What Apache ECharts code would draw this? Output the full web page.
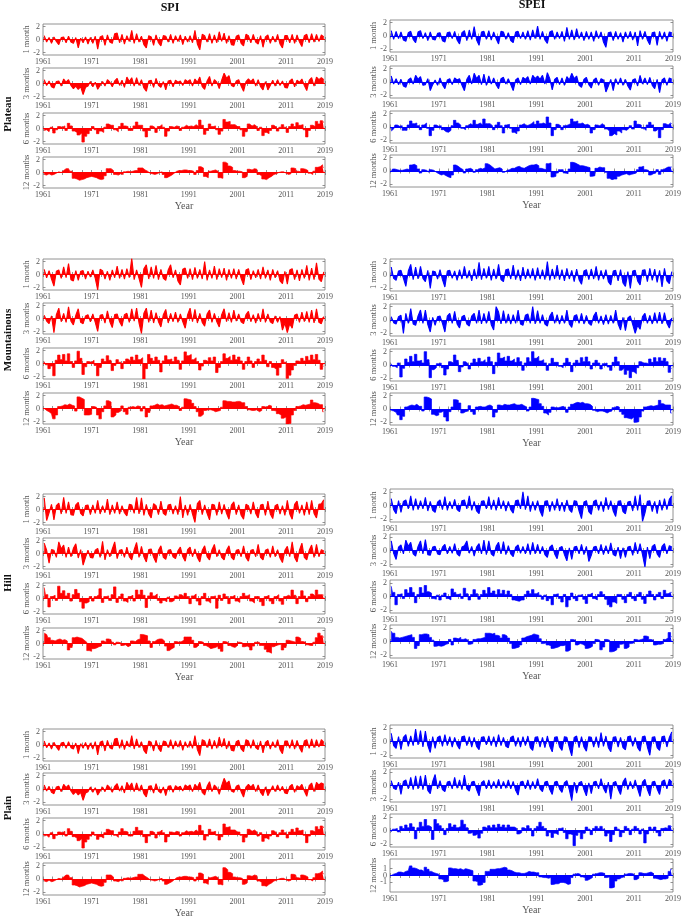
<!DOCTYPE html>
<html>
<head>
<meta charset="utf-8">
<script src="https://cdn.jsdelivr.net/npm/echarts@6/dist/echarts.min.js"></script>
<style>
  html, body { margin: 0; padding: 0; background: #fff; }
  #chart { width: 685px; height: 920px; }
</style>
</head>
<body>
<div id="chart"></div>
<script>
// half-year values, 1961 to 2018 (two per year)
const plateauSpi1 = [
  0.6,-0.4,0.3,-0.6,0.4,-0.3,-0.8,0.3,0.4,-0.5,0.5,-0.4,-0.6,0.3,-1.3,0.2,-0.5,0.4,-0.7,0.3,
  -0.6,0.5,-1.5,0.4,0.6,-0.9,0.7,-0.4,-0.6,0.9,1.0,-0.5,0.8,-0.7,0.6,-0.3,1.4,-0.6,0.9,-0.4,
  0.5,-0.8,-1.3,0.6,0.4,-0.9,0.7,-0.5,-1.0,0.6,0.5,-0.4,0.8,-0.6,0.6,-0.3,0.7,-0.8,0.5,-0.4,
  0.6,-0.5,1.4,-0.7,-1.6,0.8,0.6,-0.4,0.9,-0.6,0.7,-0.5,1.2,-0.3,1.0,-0.6,0.6,-0.8,-0.9,0.5,
  0.7,-0.6,-1.0,0.8,0.6,-0.5,0.8,-0.4,-0.7,0.6,-1.2,0.4,0.7,-0.6,0.5,-0.4,0.8,-0.7,-1.3,0.6,
  0.6,-0.5,0.8,-0.6,0.7,-0.4,-1.1,0.6,0.8,-0.5,0.9,-0.4,0.8,-0.3,0.7,0.4
];
const plateauSpi3 = [
  0.6,-0.3,0.4,-0.5,-0.7,0.3,0.4,-0.4,0.7,0.2,0.6,-0.3,-0.8,-0.4,-0.9,-0.5,-1.7,-0.6,-0.4,0.3,
  -0.5,0.2,-0.9,-0.3,0.3,-0.4,0.6,0.2,-0.5,0.4,0.8,-0.3,0.5,-0.6,1.0,0.3,0.9,-0.4,0.9,-0.3,
  0.6,-0.7,-1.2,0.4,0.5,-0.6,0.8,-0.3,-0.6,0.3,-1.0,0.4,0.5,-0.5,0.5,0.2,0.4,-0.3,0.6,0.3,
  0.6,-0.4,0.7,0.2,1.0,-0.5,-0.9,0.4,1.1,-0.4,0.6,0.2,-0.8,0.5,1.6,0.8,1.2,-0.3,-0.5,0.4,
  0.6,-0.4,-1.2,0.3,0.7,0.3,0.7,-0.4,0.6,-0.5,-1.0,0.3,-1.0,-0.3,0.5,-0.4,0.6,-0.3,0.4,-0.6,
  -0.7,0.4,0.7,-0.5,0.5,0.2,0.7,-0.3,-1.1,0.5,0.9,-0.4,1.0,0.6,0.9,0.6
];
const plateauSpi6 = [
  -0.3,-0.2,-0.5,0.2,-0.7,-0.2,0.3,0.2,0.4,-0.3,0.8,0.4,-0.4,-0.6,-1.0,-0.7,-2.1,-1.2,-0.8,-0.3,
  0.3,-0.2,-0.8,-0.4,-0.6,0.2,0.7,0.5,0.5,-0.2,-0.5,0.3,0.8,0.4,0.3,-0.3,-0.3,0.4,1.0,0.5,
  0.5,-0.4,-1.3,-0.3,0.4,0.2,-0.6,0.3,0.6,0.2,-1.2,-0.4,0.3,0.2,0.4,0.3,-0.3,0.2,0.5,0.3,
  0.4,0.3,0.6,0.3,1.3,0.5,-0.9,-0.3,0.7,0.3,0.4,-0.2,-0.9,-0.4,1.4,1.0,1.1,0.6,0.6,0.3,
  0.3,-0.2,-1.2,-0.5,0.7,0.4,0.6,0.3,-0.3,0.2,-1.1,-0.6,-0.8,-0.3,0.5,0.2,-0.4,0.2,0.6,0.2,
  -0.6,0.3,0.7,0.3,0.9,0.5,0.6,-0.2,-1.3,-0.3,0.5,0.3,1.1,0.7,1.2,0.9
];
const plateauSpi12 = [
  -0.3,-0.4,-0.2,-0.4,-0.3,-0.1,0.1,0.0,0.3,0.6,0.6,0.2,-0.9,-1.0,-1.2,-1.1,-1.0,-0.8,-0.7,-0.6,
  -0.7,-0.8,-1.0,-1.1,-1.0,-0.5,0.6,0.6,0.3,-0.3,-0.4,-0.2,-0.3,0.1,0.2,0.1,0.2,0.3,0.3,0.7,
  0.7,0.4,0.2,-0.1,-0.2,-0.3,-0.2,0.0,0.1,-0.3,-0.8,-0.6,-0.4,-0.1,0.2,0.3,0.3,0.4,0.4,0.3,
  0.3,0.2,-0.3,0.3,0.9,0.7,-0.6,-0.8,0.2,0.3,0.4,0.2,-0.8,-0.9,1.6,1.4,1.0,0.8,0.3,0.2,
  0.2,0.1,-0.8,-0.6,0.5,0.4,0.6,0.5,-0.3,-0.5,-1.0,-1.1,-0.8,-0.6,-0.3,-0.2,0.0,0.1,0.1,-0.1,
  -0.3,-0.2,0.7,0.6,0.2,0.1,0.6,0.5,0.3,-0.1,-0.3,0.2,0.8,0.9,1.2,0.8
];
const plateauSpei1 = [
  0.8,-0.5,0.7,-0.4,0.6,-0.6,-0.8,0.5,0.7,-0.5,-1.0,0.6,0.8,-0.4,0.5,-0.7,0.6,-0.5,-0.6,0.4,
  0.5,-0.7,-0.9,0.5,0.6,-0.4,0.7,-0.6,-1.2,0.5,0.8,-0.7,0.9,-0.5,1.4,-0.6,-1.4,0.6,0.7,-0.5,
  0.8,-0.6,0.6,-0.4,-1.2,0.7,0.6,-0.5,0.5,-0.7,-1.0,0.6,0.7,-0.4,0.6,-0.5,0.8,-0.6,0.9,-0.4,
  1.5,-0.5,0.7,-0.6,-1.1,0.6,0.8,-0.5,0.6,-0.4,0.7,-0.8,1.3,-0.5,0.9,-0.6,1.1,-0.4,0.6,-0.7,
  0.7,-0.5,0.6,-0.8,0.8,-0.4,0.6,-0.9,-1.7,0.5,0.6,-0.7,0.7,-0.5,0.5,-0.9,0.6,-0.4,0.7,-0.6,
  0.6,-1.5,0.8,-0.5,0.7,-0.6,-1.3,0.5,0.6,-1.4,0.7,-0.5,0.6,-0.8,0.6,0.5
];
const plateauSpei3 = [
  0.9,-0.3,0.5,-0.4,0.4,-0.6,-0.8,0.3,0.6,-0.3,1.0,0.4,0.8,-0.5,-0.4,0.5,-1.3,-0.4,0.3,-0.5,
  0.6,-0.4,-1.0,0.3,0.5,-0.4,0.6,0.3,0.5,-0.5,-1.3,0.4,1.0,-0.3,1.3,0.5,1.0,-0.4,1.2,-0.5,
  0.9,-0.3,0.6,-0.4,-1.0,0.5,0.7,-0.3,0.5,-0.4,-1.3,0.3,0.6,-0.4,0.7,0.4,0.8,-0.3,1.0,0.5,
  0.9,0.4,1.0,-0.3,1.4,0.5,-1.2,0.4,0.7,-0.4,0.6,-0.5,0.8,0.3,1.3,0.5,0.9,-0.5,-0.8,0.4,
  0.7,-0.4,-0.9,0.3,0.6,-0.5,0.5,0.3,-1.5,-0.6,0.4,-1.3,0.5,-0.4,0.6,-0.5,0.4,-0.6,-1.2,0.3,
  0.5,-0.6,1.0,-0.3,0.6,-0.4,0.7,-0.5,-1.0,0.4,-1.6,0.3,0.6,-0.5,0.6,0.4
];
const plateauSpei6 = [
  -0.6,-0.3,0.3,0.1,0.2,-0.5,-0.5,0.3,0.9,0.5,0.6,0.2,-0.4,0.3,0.6,-0.2,-1.3,-0.5,0.3,0.1,
  0.2,-0.4,-0.7,-0.8,-0.5,0.2,1.0,0.6,0.3,-0.2,-0.4,0.2,0.5,0.3,1.0,0.4,0.6,0.3,1.2,0.5,
  0.5,0.2,-0.4,0.3,0.7,0.2,-0.9,0.3,0.4,-0.2,-0.8,-1.0,-0.6,0.3,0.5,0.2,0.3,0.5,0.8,0.4,
  0.9,0.5,0.6,0.4,1.5,0.6,-1.3,-0.4,0.4,0.2,-0.4,0.2,0.3,0.5,1.2,0.8,0.9,0.5,0.6,0.3,
  0.4,0.2,-0.9,-0.4,0.3,0.2,0.5,0.2,-0.3,-0.6,-1.3,-1.0,-1.2,-0.6,-0.9,-0.4,-0.5,-0.2,0.2,-0.3,
  0.9,0.4,0.3,-0.2,-0.5,0.3,0.7,0.3,-0.6,-0.3,-1.6,-0.4,0.5,0.3,0.6,0.5
];
const plateauSpei12 = [
  -0.1,0.3,0.2,0.1,0.1,0.2,0.3,0.2,0.9,1.0,0.8,0.3,-0.3,0.2,0.1,-0.2,0.2,0.1,-0.2,-0.4,
  -0.6,-0.5,-0.7,-0.9,-1.0,-0.6,0.9,0.7,0.4,0.2,-0.3,0.3,0.4,0.2,-0.2,0.2,0.4,0.3,0.5,1.1,
  0.9,0.6,0.3,0.4,0.5,0.3,-0.2,0.1,0.2,0.4,0.4,0.6,0.7,0.5,0.4,0.6,0.8,0.9,0.9,1.0,
  0.8,0.4,0.3,0.2,1.1,1.2,-0.9,-0.8,-0.3,0.2,0.2,-0.3,-0.4,0.3,1.3,1.2,1.0,0.8,0.8,0.7,
  0.6,0.5,-0.8,-0.7,0.4,0.6,0.5,0.5,-0.2,-1.1,-1.3,-1.2,-1.2,-0.8,-0.6,-0.5,-0.4,-0.6,-0.5,-0.4,
  -0.3,0.2,0.6,0.7,0.2,0.1,-0.6,-0.4,-0.3,0.2,-0.5,0.2,0.4,0.6,0.6,0.6
];

const mountainSpi1 = [
  0.8,-0.5,0.6,-0.7,-1.8,0.5,0.7,-0.6,1.2,-0.5,1.7,-0.8,-1.0,0.6,-0.9,0.5,0.6,-0.7,0.5,-0.4,
  0.7,-0.6,-2.4,0.8,0.6,-0.7,0.5,-0.9,0.7,-0.5,1.3,-0.6,0.8,-0.7,0.9,-0.5,2.5,-0.8,0.7,-0.6,
  -2.0,0.9,1.5,-0.7,1.2,-0.6,1.4,-0.8,0.8,-0.6,-0.9,0.7,1.5,-0.5,0.7,-1.0,-1.6,0.8,1.0,-0.6,
  0.9,-0.8,1.1,-0.6,0.8,-0.7,2.0,-0.9,0.7,-0.6,1.3,-0.8,0.9,-0.5,1.0,-0.9,0.8,-0.6,0.9,-0.7,
  0.8,-0.6,-1.6,0.7,0.9,-0.8,0.6,-0.5,0.8,-0.7,1.2,-0.6,0.7,-0.9,0.8,-0.5,0.6,-1.0,-1.4,0.5,
  -1.5,0.7,0.9,-0.8,0.7,-1.0,0.8,-0.6,1.4,-0.9,1.0,-0.8,1.8,-0.7,-1.1,0.4
];
const mountainSpi3 = [
  0.5,-0.4,-0.8,0.4,-2.2,0.6,1.6,-0.5,0.8,-0.6,1.8,-0.4,-1.0,0.5,1.5,-0.6,-0.8,0.4,0.6,-0.5,
  0.7,-0.6,-2.0,0.5,0.6,-0.7,1.2,-0.5,-1.4,0.6,0.7,-0.5,-1.2,0.6,0.8,-0.6,1.5,-0.4,1.6,-0.7,
  -2.3,0.8,1.6,-0.6,1.3,-0.7,0.9,-0.5,-1.3,0.6,1.4,-0.7,0.8,-0.5,1.0,-0.6,0.7,-0.5,-1.5,0.6,
  1.6,-0.5,1.4,-0.7,0.8,-0.6,-1.2,0.7,1.3,-0.6,0.8,-0.5,-1.3,0.6,1.5,-0.5,0.9,-0.6,1.3,-0.4,
  0.7,-0.5,-0.8,0.6,1.1,-0.5,0.6,-0.7,0.8,-0.5,1.5,-0.6,0.7,-0.5,-0.8,0.4,-0.6,0.3,-1.8,-0.7,
  -2.2,-0.8,-1.5,0.5,0.7,-0.6,1.0,-0.5,1.1,-0.6,1.3,-0.7,1.5,-0.6,-0.8,0.3
];
const mountainSpi6 = [
  0.3,-0.2,-0.8,-0.4,-1.9,0.5,1.3,0.6,1.4,0.4,1.5,0.3,-0.6,0.4,1.9,0.8,-1.7,-0.5,0.3,0.2,
  0.5,-0.3,-1.9,-0.6,0.7,0.3,1.2,0.5,-1.1,-0.3,0.6,0.2,-0.8,0.3,0.7,0.4,1.0,0.5,1.3,0.6,
  0.9,-2.4,-0.8,1.4,0.8,0.4,1.0,0.5,-1.3,0.4,1.2,0.6,0.7,0.3,1.0,0.5,-0.9,0.4,1.8,1.2,
  1.4,0.6,0.9,0.3,-1.0,-0.4,0.5,0.3,0.9,0.4,1.0,-1.4,-0.6,0.3,1.5,0.8,1.1,0.5,1.3,0.6,
  1.0,0.4,-0.9,0.3,1.0,0.4,-0.6,0.3,0.7,0.3,1.3,0.5,-0.5,0.3,-0.6,-0.9,-1.8,-0.6,0.6,0.2,
  -2.3,-1.8,-1.0,-0.3,0.4,0.3,0.8,0.4,1.1,0.5,1.3,0.6,1.4,0.5,-0.9,-0.4
];
const mountainSpi12 = [
  0.0,-0.3,-0.5,-0.8,-1.6,-1.0,0.3,0.4,0.6,0.5,0.7,0.5,0.4,-0.4,1.8,1.6,1.4,-1.0,-1.0,-0.9,
  0.3,0.2,-1.0,-1.6,-0.5,0.4,1.2,1.0,-1.3,-1.0,-0.6,-0.4,0.4,-0.5,-0.9,0.2,0.3,0.2,0.4,0.3,
  -0.4,0.3,-1.3,-0.6,0.4,0.5,0.7,0.5,0.6,0.4,0.5,0.6,0.7,0.5,0.5,0.3,-0.3,0.2,1.5,1.4,
  1.3,0.8,0.3,-0.5,-1.2,-0.9,-0.3,-0.2,-0.2,-0.3,-0.5,-0.4,-0.3,0.2,1.2,1.1,1.1,1.0,1.0,1.1,
  1.1,0.9,0.9,0.3,-0.2,-0.3,-0.3,-0.2,-0.5,-0.3,0.3,0.2,0.5,0.4,-0.3,-0.4,-0.8,-1.0,-1.5,-1.3,
  -2.4,-2.3,-1.0,-0.3,0.3,0.4,0.6,0.5,0.6,0.7,1.3,0.9,0.8,0.6,0.6,-0.5
];
const mountainSpei1 = [
  1.2,-0.5,-0.8,0.6,0.7,-0.5,-1.7,0.6,1.6,-0.7,1.2,-0.6,1.3,-0.5,-1.0,0.7,-2.0,0.6,0.5,-0.6,
  0.8,-0.7,-1.8,0.6,0.7,-0.5,0.6,-0.8,0.8,-0.6,1.3,-0.5,0.7,-0.9,0.9,-0.6,1.9,-0.7,1.0,-0.5,
  1.3,-0.8,0.9,-0.6,1.6,-0.7,-1.0,0.8,0.9,-0.6,1.5,-0.7,0.8,-0.9,1.2,-0.6,0.9,-0.5,1.0,-0.8,
  1.1,-0.6,0.8,-0.7,2.0,-0.8,0.9,-0.6,1.5,-0.7,0.8,-0.9,1.0,-0.6,0.7,-1.0,0.9,-0.7,-1.4,0.6,
  0.8,-0.7,0.9,-0.6,1.3,-0.8,0.7,-0.6,0.8,-1.0,-1.5,0.6,0.7,-0.9,0.8,-1.2,-1.7,0.5,-2.0,0.6,
  0.7,-0.9,-1.5,0.7,0.8,-1.0,1.0,-0.8,0.9,-1.1,0.7,-1.8,1.0,-0.9,-1.3,0.5
];
const mountainSpei3 = [
  0.5,-0.4,-0.6,0.5,0.7,-2.0,1.0,-0.5,1.7,-0.6,-0.8,0.6,1.5,-0.5,1.5,-0.7,-1.8,0.4,-0.8,0.5,
  0.6,-0.5,-1.8,0.6,1.0,-0.5,1.3,-0.6,-1.2,0.5,0.7,-0.6,-0.9,0.6,1.0,-0.5,1.5,-0.6,1.0,-0.5,
  1.3,-0.7,-1.5,2.0,1.2,-0.6,1.4,-0.5,0.9,-0.6,0.8,-0.5,1.5,-0.6,-0.8,0.7,0.9,-0.5,2.0,-0.6,
  1.4,-0.5,0.8,-0.6,-0.9,0.6,1.2,-0.5,0.8,-0.6,0.7,-0.5,1.5,-0.6,-1.1,0.6,0.8,-0.5,1.0,-0.6,
  0.7,-0.5,-0.8,0.6,1.2,-0.5,0.6,-0.7,0.8,-0.6,0.7,-0.5,1.5,-0.6,-1.5,0.4,-1.6,0.3,0.6,-0.7,
  -2.0,-0.8,-1.4,0.5,1.0,-0.5,0.7,-0.6,1.1,-0.5,1.2,-0.6,1.1,-0.5,-1.2,0.3
];
const mountainSpei6 = [
  0.2,-0.2,-0.4,0.3,-1.8,-0.5,0.9,0.4,1.3,0.5,1.6,0.6,0.7,0.3,2.0,0.8,-1.9,-0.7,-0.4,0.2,
  0.3,-0.4,-1.5,-0.6,0.5,0.3,1.5,0.7,-1.0,-0.3,0.5,0.2,-0.6,0.3,0.9,0.4,1.0,0.5,0.8,0.4,
  1.2,0.5,-1.3,0.4,1.8,1.0,1.2,0.6,1.3,0.6,0.9,0.4,1.1,0.5,-0.8,0.3,1.1,0.5,2.0,1.0,
  1.3,0.6,0.8,0.3,-0.8,0.2,1.0,0.4,0.4,-0.2,-0.4,0.3,1.0,0.4,-1.0,0.3,0.7,0.3,1.1,0.5,
  1.2,0.5,-0.6,0.3,0.7,0.3,-0.6,0.2,0.3,-0.3,-0.8,0.4,1.2,0.5,-0.8,-0.5,-1.4,-0.8,-1.9,-1.0,
  -1.3,-0.4,0.5,0.3,0.3,0.2,0.9,0.4,1.1,0.5,1.1,0.6,1.0,0.5,-1.1,-0.5
];
const mountainSpei12 = [
  -0.2,-0.3,-0.5,-0.9,-1.6,-1.1,0.3,0.5,0.6,0.5,0.7,0.4,0.4,-0.3,1.8,1.7,1.5,-0.8,-1.0,-0.9,
  -0.5,-0.3,-1.2,-1.8,-0.4,0.3,1.4,1.3,0.9,-0.6,-0.4,-0.3,0.5,-0.4,-0.8,0.3,0.4,0.3,0.3,0.5,
  0.6,0.4,-1.2,-0.5,0.6,0.5,0.7,0.6,0.6,0.7,0.8,0.6,0.6,0.7,0.5,0.3,-0.3,0.3,1.6,1.5,
  1.4,0.8,0.4,-0.6,-0.9,-0.5,0.3,0.2,0.2,0.3,0.4,0.2,-0.5,0.3,0.7,0.9,1.0,0.9,1.0,0.8,
  0.8,0.7,0.4,-0.2,-0.4,-0.3,-0.3,-0.4,-0.6,-0.4,-0.3,0.2,0.4,0.3,-0.4,-0.8,-1.3,-1.4,-1.5,-1.2,
  -2.0,-1.9,-1.2,-0.3,0.3,0.4,0.5,0.4,0.5,0.6,1.3,0.8,0.6,0.6,0.6,-0.6
];

const hillSpi1 = [
  1.8,-1.7,-0.5,0.8,-1.6,0.6,1.0,-0.7,1.9,-0.6,1.2,-0.8,-0.9,0.7,1.1,-0.6,-1.0,0.6,0.7,-0.8,
  0.7,-0.6,1.4,-0.7,0.6,-0.5,1.6,-0.8,0.7,-0.6,1.2,-0.7,0.6,-0.5,-1.0,0.8,0.7,-0.6,1.9,-0.7,
  1.8,-0.9,0.8,-0.7,-1.3,0.9,0.6,-0.8,1.3,-0.6,-0.9,0.7,0.8,-0.7,0.6,-0.8,2.0,-1.3,0.7,-0.9,
  0.8,-0.7,-2.0,0.9,1.4,-0.8,0.7,-0.6,-1.6,0.8,0.7,-0.9,1.2,-0.7,0.8,-0.6,-1.5,0.7,1.2,-0.8,
  0.7,-0.9,-1.5,0.8,0.6,-0.7,1.2,-0.6,-1.3,0.7,0.8,-0.9,1.3,-0.7,-1.4,0.6,0.8,-0.7,0.6,-0.9,
  1.4,-0.7,-1.5,0.8,1.3,-0.6,0.7,-0.9,1.2,-0.8,1.4,-0.6,-1.3,0.8,0.9,1.5
];
const hillSpi3 = [
  1.6,0.5,-1.5,0.6,0.5,-0.6,1.8,0.7,1.3,-0.6,1.0,-0.5,0.8,1.5,-0.7,0.6,-1.8,-0.6,0.5,-0.6,
  -0.7,0.5,0.8,-0.6,1.9,-1.0,0.6,-0.5,0.7,1.8,-0.8,0.5,0.6,-0.6,1.0,-0.5,-1.0,0.6,1.7,-0.6,
  1.1,-0.5,-1.3,0.6,0.7,-0.6,-1.4,0.5,1.2,-0.6,-0.9,0.5,0.6,-0.5,-0.8,0.4,1.0,-0.5,-1.2,0.6,
  1.0,-0.5,0.7,-0.6,-1.3,0.5,1.2,-0.5,-1.0,0.6,1.4,-0.5,0.6,-0.6,-1.0,0.5,1.2,-0.6,-1.0,0.5,
  0.6,-0.5,1.2,-0.6,-1.2,0.5,0.6,-0.5,1.4,-0.6,-1.0,0.5,0.7,-0.6,1.2,-0.5,0.6,-0.7,-1.4,0.5,
  1.1,-0.5,1.8,-0.6,-1.3,0.5,1.6,-0.6,-1.0,0.5,1.3,-0.6,1.4,-0.5,0.6,0.4
];
const hillSpi6 = [
  1.7,0.6,-1.3,0.3,0.5,-0.3,1.9,0.8,1.2,0.4,0.8,-0.4,0.6,1.4,0.8,-0.5,-1.5,-0.7,-0.5,0.3,
  -0.4,0.3,0.6,1.5,-0.6,0.3,0.4,-0.3,0.6,1.8,-0.6,0.3,0.7,-0.4,-0.6,0.3,0.5,-0.4,1.3,0.6,
  1.3,0.5,-1.4,0.4,0.9,0.4,0.7,-0.3,-0.7,-0.3,-0.5,0.2,-0.5,-0.3,0.4,0.2,0.6,0.3,0.8,0.3,
  -0.8,0.4,0.7,-0.4,-1.0,0.3,0.8,-0.4,-0.7,0.3,0.4,-1.5,0.5,-0.3,0.7,0.3,-0.8,0.3,0.5,-0.4,
  -0.6,0.3,0.8,0.4,0.6,-0.4,-0.7,0.3,0.3,-0.5,-1.1,0.3,0.5,-0.4,-0.8,0.3,0.6,-0.4,-0.9,0.3,
  0.5,0.3,1.3,0.5,-0.8,0.3,1.2,0.4,-0.5,0.3,0.7,0.4,1.3,0.6,0.6,0.5
];
const hillSpi12 = [
  1.6,1.4,0.9,0.5,0.4,0.6,0.7,0.5,0.6,0.4,-1.0,-0.6,0.9,1.0,0.9,0.8,0.5,0.2,-1.1,-1.2,
  -0.8,-0.7,-0.5,-0.4,0.4,0.2,0.7,0.6,0.2,-0.2,0.2,0.1,-0.3,-0.2,-0.5,-0.3,0.4,0.3,0.6,0.7,
  1.4,1.3,1.2,0.4,-0.6,0.3,0.6,0.7,0.7,0.4,-0.4,-1.1,-0.8,-0.6,0.3,0.2,0.3,0.5,1.0,1.0,
  1.0,0.5,-0.6,-0.3,0.3,0.2,-0.3,-0.5,-0.8,-0.7,-0.6,-0.4,-0.8,-1.2,0.3,0.2,-0.3,-0.5,-0.6,-0.3,
  0.2,0.1,-0.5,-0.4,-0.6,-1.0,-0.4,0.2,0.2,-0.3,-0.3,-0.9,-1.3,-1.5,-0.5,-0.3,-0.2,-0.1,-1.0,-0.6,
  0.5,0.4,0.3,0.2,1.0,0.8,0.3,0.2,-0.2,-0.3,-0.3,0.2,0.9,1.6,1.2,0.9
];
const hillSpei1 = [
  1.0,-0.6,-1.2,0.7,-1.0,0.6,0.8,-0.5,1.4,-0.7,1.0,-0.6,0.7,-0.5,1.2,-0.8,0.6,-0.7,-1.0,0.5,
  0.8,-0.6,1.3,-0.7,0.6,-0.5,0.9,-0.6,-0.9,0.7,0.8,-0.5,1.4,-0.7,0.6,-0.8,-1.2,0.6,0.7,-0.5,
  1.3,-0.6,0.8,-0.7,1.2,-0.5,0.7,-0.8,0.6,-0.6,-1.1,0.7,0.8,-0.5,2.0,-0.6,1.4,-0.9,0.6,-0.7,
  0.7,-0.8,-1.6,0.6,0.7,-0.9,0.6,-0.7,1.0,-0.8,0.5,-0.9,0.8,-0.6,-1.0,0.7,0.6,-0.8,-1.9,0.5,
  0.7,-0.9,-1.3,0.6,0.8,-0.7,0.6,-0.9,1.2,-0.6,0.7,-0.8,-1.6,0.6,0.7,-0.9,-1.2,0.5,0.6,-0.8,
  1.4,-0.7,1.6,-2.3,-1.1,0.6,0.7,-0.9,0.6,-1.2,0.8,-0.7,1.0,-0.6,0.9,1.4
];
const hillSpei3 = [
  1.4,-0.4,-1.3,0.5,0.8,-0.5,1.5,0.6,1.2,-0.5,-0.8,0.6,1.4,-0.5,1.6,-0.6,-0.7,0.5,0.6,-0.5,
  -0.6,0.5,0.9,-0.5,0.6,-0.4,1.0,-0.5,-0.8,0.5,0.7,1.4,-0.4,0.6,-0.8,0.5,1.0,-0.5,1.5,-0.6,
  1.4,-0.5,-0.8,0.6,1.2,-0.5,1.3,-0.6,0.7,-0.5,-0.9,0.5,0.8,-0.4,0.6,-0.5,1.0,-0.6,1.2,-0.5,
  0.9,-0.5,0.6,-0.6,-1.0,0.5,0.8,-0.5,-1.2,0.4,0.6,-0.6,-1.5,0.4,-1.3,0.5,0.6,-0.5,0.9,-0.6,
  0.6,-1.6,-0.7,0.5,0.6,-0.5,0.9,-0.6,0.7,-0.5,1.1,-0.6,-0.8,0.5,-1.2,0.4,-1.0,0.5,0.6,-0.7,
  1.2,-0.5,1.0,-0.6,-2.4,0.5,-1.2,0.6,0.9,-0.5,-1.0,0.6,1.0,-0.5,0.7,0.5
];
const hillSpei6 = [
  1.5,0.6,-1.2,0.3,0.4,-0.3,1.0,0.5,1.3,0.6,-0.9,0.3,1.3,0.5,1.6,0.7,0.5,-0.3,-0.4,0.2,
  -0.5,0.2,0.5,-0.3,-0.5,1.1,0.6,0.3,0.4,-0.3,1.2,0.4,-0.5,0.3,1.0,0.4,-0.4,0.3,0.9,0.4,
  1.3,0.5,0.8,0.3,1.0,0.4,0.9,0.3,0.8,0.3,-0.5,-0.6,-0.7,-0.5,-0.5,0.3,0.8,0.4,1.0,0.4,
  0.6,0.2,-0.4,0.2,-0.6,-0.3,-1.2,0.3,0.4,-0.3,-0.8,0.3,-1.5,-0.5,0.5,-0.3,-0.6,0.2,0.3,-0.4,
  -1.0,0.3,0.5,-0.3,-0.5,0.3,0.7,0.3,-0.4,-1.2,-1.5,-0.8,-1.0,0.3,0.3,-0.4,-0.9,0.3,0.6,-0.3,
  -0.6,0.3,0.6,-0.4,-1.0,0.3,0.8,0.3,-0.5,0.3,0.6,-0.3,0.9,0.4,0.6,0.6
];
const hillSpei12 = [
  1.5,1.2,0.6,0.5,0.6,0.7,0.8,0.9,1.0,0.6,-1.0,-0.6,1.0,1.1,1.1,1.0,0.6,0.2,-0.7,-0.6,
  -0.7,-0.6,-0.4,-0.3,0.3,-0.5,0.5,0.4,0.6,0.3,0.4,0.2,-0.4,-0.3,0.3,0.4,0.4,0.5,0.6,1.2,
  1.2,1.1,1.2,0.9,0.8,0.5,1.0,0.8,0.5,-0.3,-1.0,-0.9,-0.8,-0.5,0.5,0.7,0.8,0.9,1.1,1.0,
  0.9,0.4,-0.3,-0.2,-0.5,-0.6,-1.0,-0.9,-0.8,-0.6,-0.6,-0.5,-1.4,-1.2,0.3,0.2,-0.5,-0.3,-0.4,-0.6,
  -1.0,-0.9,-0.7,-0.3,0.3,0.2,-1.2,-0.8,0.3,0.2,-1.5,-1.4,-1.2,-0.9,-0.4,-0.3,-1.0,-0.8,-0.3,-0.2,
  0.3,0.2,0.3,0.4,0.8,0.7,0.3,0.2,-0.5,-0.4,-0.4,-0.3,0.3,0.5,1.3,0.7
];

const plainSpi1 = [
  0.6,-0.4,0.3,-0.6,0.4,-0.3,-0.8,0.3,0.4,-0.5,0.5,-0.4,-0.6,0.3,-1.3,0.2,-0.5,0.4,-0.7,0.3,
  -0.6,0.5,-1.5,0.4,0.6,-0.9,0.7,-0.4,-0.6,0.9,1.0,-0.5,0.8,-0.7,0.6,-0.3,1.4,-0.6,0.9,-0.4,
  0.5,-0.8,-1.3,0.6,0.4,-0.9,0.7,-0.5,-1.0,0.6,0.5,-0.4,0.8,-0.6,0.6,-0.3,0.7,-0.8,0.5,-0.4,
  0.6,-0.5,1.4,-0.7,-1.6,0.8,0.6,-0.4,0.9,-0.6,0.7,-0.5,1.2,-0.3,1.0,-0.6,0.6,-0.8,-0.9,0.5,
  0.7,-0.6,-1.0,0.8,0.6,-0.5,0.8,-0.4,-0.7,0.6,-1.2,0.4,0.7,-0.6,0.5,-0.4,0.8,-0.7,-1.3,0.6,
  0.6,-0.5,0.8,-0.6,0.7,-0.4,-1.1,0.6,0.8,-0.5,0.9,-0.4,0.8,-0.3,0.8,0.4
];
const plainSpi3 = [
  0.6,-0.3,0.4,-0.5,-0.7,0.3,0.4,-0.4,0.7,0.2,0.6,-0.3,-0.8,-0.4,-0.9,-0.5,-1.7,-0.6,-0.4,0.3,
  -0.5,0.2,-0.9,-0.3,0.3,-0.4,0.6,0.2,-0.5,0.4,0.8,-0.3,0.5,-0.6,1.0,0.3,0.9,-0.4,0.9,-0.3,
  0.6,-0.7,-1.2,0.4,0.5,-0.6,0.8,-0.3,-0.6,0.3,-1.0,0.4,0.5,-0.5,0.5,0.2,0.4,-0.3,0.6,0.3,
  0.6,-0.4,0.7,0.2,1.0,-0.5,-0.9,0.4,1.1,-0.4,0.6,0.2,-0.8,0.5,1.6,0.8,1.2,-0.3,-0.5,0.4,
  0.6,-0.4,-1.2,0.3,0.7,0.3,0.7,-0.4,0.6,-0.5,-1.0,0.3,-1.0,-0.3,0.5,-0.4,0.6,-0.3,0.4,-0.6,
  -0.7,0.4,0.7,-0.5,0.5,0.2,0.7,-0.3,-1.1,0.5,0.9,-0.4,1.0,0.6,0.9,0.7
];
const plainSpi6 = [
  -0.3,-0.2,-0.5,0.2,-0.7,-0.2,0.3,0.2,0.4,-0.3,0.8,0.4,-0.4,-0.6,-1.0,-0.7,-2.1,-1.2,-0.8,-0.3,
  0.3,-0.2,-0.8,-0.4,-0.6,0.2,0.7,0.5,0.5,-0.2,-0.5,0.3,0.8,0.4,0.3,-0.3,-0.3,0.4,1.0,0.5,
  0.5,-0.4,-1.3,-0.3,0.4,0.2,-0.6,0.3,0.6,0.2,-1.2,-0.4,0.3,0.2,0.4,0.3,-0.3,0.2,0.5,0.3,
  0.4,0.3,0.6,0.3,1.3,0.5,-0.9,-0.3,0.7,0.3,0.4,-0.2,-0.9,-0.4,1.5,1.0,1.1,0.6,0.6,0.3,
  0.3,-0.2,-1.2,-0.5,0.7,0.4,0.6,0.3,-0.3,0.2,-1.1,-0.6,-0.8,-0.3,0.5,0.2,-0.4,0.2,0.6,0.2,
  -0.6,0.3,0.7,0.3,0.9,0.5,0.6,-0.2,-1.3,-0.3,0.5,0.3,1.1,0.7,1.2,0.9
];
const plainSpi12 = [
  -0.3,-0.4,-0.2,-0.4,-0.3,-0.1,0.1,0.0,0.3,0.6,0.6,0.2,-0.9,-1.0,-1.2,-1.1,-1.0,-0.8,-0.7,-0.6,
  -0.7,-0.8,-1.0,-1.1,-1.0,-0.5,0.6,0.6,0.3,-0.3,-0.4,-0.2,-0.3,0.1,0.2,0.1,0.2,0.3,0.3,0.7,
  0.7,0.4,0.2,-0.1,-0.2,-0.3,-0.2,0.0,0.1,-0.3,-0.8,-0.6,-0.4,-0.1,0.2,0.3,0.3,0.4,0.4,0.3,
  0.3,0.2,-0.3,0.3,0.9,0.7,-0.6,-0.8,0.2,0.3,0.4,0.2,-0.8,-0.9,1.7,1.4,1.0,0.8,0.3,0.2,
  0.2,0.1,-0.8,-0.6,0.5,0.4,0.6,0.5,-0.3,-0.5,-1.0,-1.1,-0.8,-0.6,-0.3,-0.2,0.0,0.1,0.1,-0.1,
  -0.3,-0.2,0.7,0.6,0.2,0.1,0.6,0.5,0.3,-0.1,-0.3,0.2,0.8,0.9,1.2,0.8
];
const plainSpei1 = [
  1.2,-0.6,-1.0,0.7,-1.2,0.6,1.0,-0.7,0.8,-0.6,1.8,-0.5,1.6,-0.8,1.5,-0.6,-1.6,0.7,-1.0,0.6,
  0.8,-0.7,1.0,-0.6,0.7,-0.8,0.6,-0.5,-1.1,0.7,0.8,-0.6,0.7,-0.8,0.6,-0.7,-1.2,0.6,0.7,-0.5,
  0.8,-0.6,0.7,-0.8,1.0,-0.6,0.6,-0.7,-0.9,0.6,0.8,-0.7,0.6,-0.8,0.7,-0.6,0.8,-0.9,-1.3,0.6,
  0.7,-0.8,0.6,-0.9,0.8,-0.7,-1.5,0.6,0.7,-0.8,-1.3,0.7,0.6,-0.9,-2.1,0.6,0.8,-0.9,0.7,-0.8,
  -1.4,0.7,0.6,-0.8,0.7,-0.9,1.3,-0.7,0.8,-0.9,-1.5,0.6,0.7,-0.8,0.6,-0.9,-1.2,0.7,0.8,-0.7,
  0.6,-0.9,-1.4,0.7,0.8,-0.8,-2.0,0.6,0.7,-0.9,-1.3,0.7,0.8,-0.8,0.6,1.4
];
const plainSpei3 = [
  0.7,-0.4,-0.6,0.5,-1.3,0.6,0.8,-0.5,1.2,-0.6,1.4,-0.5,1.4,-0.6,1.5,-0.7,-1.2,0.6,1.6,-0.5,
  0.7,-0.6,-0.9,0.5,0.6,-0.5,1.2,-0.4,0.8,-0.6,1.5,-0.5,-0.8,0.5,0.6,-0.6,-1.5,0.4,0.7,-0.5,
  0.8,-0.5,0.6,-0.4,0.9,-0.5,0.6,-0.4,0.8,-0.5,0.6,-0.7,-1.4,0.5,0.6,-0.5,0.8,-0.6,0.6,-0.5,
  1.0,-0.5,-0.9,0.5,0.6,-0.6,-1.3,0.5,0.6,-0.5,-1.0,0.4,0.7,-0.6,-2.2,0.5,-1.1,0.4,0.6,-0.6,
  -1.5,0.4,-1.2,0.5,0.6,-0.5,1.0,-0.4,-1.1,0.5,-2.0,0.4,0.6,-0.5,-1.3,0.5,1.1,-0.6,0.6,-0.5,
  0.8,-0.5,-1.6,0.5,0.9,-0.6,-1.5,0.5,0.6,-0.5,-1.3,0.6,0.8,-0.5,0.9,0.5
];
const plainSpei6 = [
  -0.2,0.2,0.3,-0.2,0.6,0.3,0.8,0.4,1.0,0.5,-1.2,0.4,1.2,0.6,1.6,0.7,0.5,-1.3,1.6,1.0,
  0.7,0.3,-0.6,0.3,1.0,0.5,0.8,0.4,0.6,1.5,0.9,0.4,-0.4,-0.3,-0.7,-0.5,-1.1,-0.4,0.5,0.3,
  0.7,0.4,0.8,0.4,0.9,0.5,0.8,0.4,0.8,0.5,0.5,0.3,-0.5,-0.3,0.4,0.2,0.7,0.3,-0.8,0.3,
  0.6,1.2,0.6,0.3,-0.8,-0.3,-1.0,-0.4,-0.6,0.3,0.4,-0.3,-1.2,-0.5,-0.6,-2.2,-0.7,-0.3,-1.2,-0.4,
  0.5,0.2,-0.6,0.3,0.6,0.3,0.6,0.2,-0.8,-0.4,-1.6,-0.6,0.5,0.2,-0.9,-0.3,0.6,0.3,-0.6,0.2,
  0.6,0.3,-0.5,0.2,-1.8,-0.5,0.5,0.2,0.5,-0.3,-0.8,0.3,0.4,0.3,0.7,0.5
];
const plainSpei12 = [
  0.0,0.2,0.3,0.5,0.5,0.4,0.6,0.7,1.4,1.1,1.0,0.8,0.8,0.6,1.2,0.9,0.6,0.4,0.3,0.2,
  -0.5,-0.6,-0.9,-0.8,1.1,1.0,1.0,0.9,1.0,0.8,1.0,0.9,0.8,0.7,-0.8,-0.9,-1.4,-1.3,-1.0,0.6,
  0.6,0.9,0.9,1.0,1.0,1.1,1.2,1.1,0.8,0.7,0.5,0.4,0.4,0.3,0.3,0.4,0.6,0.5,0.5,0.4,
  0.4,-0.2,-0.3,-0.3,-0.4,-0.3,-1.3,-1.2,-1.2,-1.0,-1.0,-1.1,-1.3,-1.2,-0.3,0.2,0.3,0.2,-0.2,-0.3,
  -0.7,-0.5,-0.3,0.2,0.3,0.4,0.4,0.3,-0.3,-0.2,-1.8,-1.7,-0.8,-0.5,-0.3,-0.2,0.2,0.3,0.3,0.2,
  -0.6,-0.4,0.4,0.3,0.3,0.4,0.5,0.3,-0.4,-0.5,-0.6,-0.5,-0.5,-0.4,0.6,0.9
];

const yearLabels = [1961, 1971, 1981, 1991, 2001, 2011, 2019];
const scaleNames = ['1 month', '3 months', '6 months', '12 months'];
const indexNames = ['SPI', 'SPEI'];
const regionNames = ['Plateau', 'Mountainous', 'Hill', 'Plain'];
const yTicksDefault = [-2, 0, 2];
const yTicksFine = [-2, -1, 0, 1, 2];

const regionSeries = {
  Plateau: [[plateauSpi1, plateauSpi3, plateauSpi6, plateauSpi12], [plateauSpei1, plateauSpei3, plateauSpei6, plateauSpei12]],
  Mountainous: [[mountainSpi1, mountainSpi3, mountainSpi6, mountainSpi12], [mountainSpei1, mountainSpei3, mountainSpei6, mountainSpei12]],
  Hill: [[hillSpi1, hillSpi3, hillSpi6, hillSpi12], [hillSpei1, hillSpei3, hillSpei6, hillSpei12]],
  Plain: [[plainSpi1, plainSpi3, plainSpi6, plainSpi12], [plainSpei1, plainSpei3, plainSpei6, plainSpei12]]
};

// panel tops per region: [SPI column, SPEI column]
const panelLayout = {
  Plateau: { tops: [[24, 68, 113, 157], [20, 66, 111, 155]], heights: [31, 32], labelY: 114 },
  Mountainous: { tops: [[259, 303, 348, 393], [259, 304, 349, 393]], heights: [31, 32], labelY: 340 },
  Hill: { tops: [[494, 538, 583, 628], [489, 534, 580, 625]], heights: [31, 33], labelY: 583 },
  Plain: { tops: [[729, 773, 818, 863], [725, 769, 814, 859]], heights: [32, 33], labelY: 808 }
};
const columnLeft = [43, 390];
const columnWidth = [282, 283];
const colors = ['#ff0000', '#0000ff'];

const serif = 'Liberation Serif';
const textGrey = '#555';
const frameGrey = '#777';

const grids = [];
const xAxes = [];
const yAxes = [];
const series = [];

function addPanel (left, top, width, height, values, color, scaleName, isLast, yTicks, stepped) {
  const gi = grids.length;
  grids.push({
    left: left, top: top, width: width, height: height,
    show: true, borderColor: frameGrey, borderWidth: 0.8, backgroundColor: '#fff'
  });
  const xBase = {
    type: 'value', gridIndex: gi, min: 1961, max: 2019, interval: 2,
    axisLine: { show: false },
    splitLine: { show: false },
    axisTick: { show: true, inside: true, length: 2.5, lineStyle: { color: frameGrey, width: 0.8 } }
  };
  const xi = xAxes.length;
  xAxes.push(Object.assign({}, xBase, {
    position: 'bottom',
    axisLabel: {
      show: true, margin: 3, fontFamily: serif, fontSize: 8, color: textGrey,
      formatter: function (v) { return yearLabels.indexOf(Math.round(v)) >= 0 ? String(Math.round(v)) : '' }
    },
    name: isLast ? 'Year' : '',
    nameLocation: 'middle', nameGap: 13, nameMoveOverlap: false,
    nameTextStyle: { fontFamily: serif, fontSize: 10, color: textGrey }
  }));
  xAxes.push(Object.assign({}, xBase, { position: 'top', axisLabel: { show: false } }));

  const yBase = {
    type: 'value', gridIndex: gi, min: -2.4, max: 2.4,
    axisLine: { show: false },
    splitLine: { show: false },
    axisTick: { show: true, inside: true, length: 2.5, customValues: yTicks, lineStyle: { color: frameGrey, width: 0.8 } }
  };
  const yi = yAxes.length;
  yAxes.push(Object.assign({}, yBase, {
    position: 'left',
    axisLabel: { show: true, customValues: yTicks, margin: 3, fontFamily: serif, fontSize: 8, color: textGrey },
    name: scaleName, nameLocation: 'middle', nameGap: 12, nameRotate: 90, nameMoveOverlap: false,
    nameTextStyle: { fontFamily: serif, fontSize: 8.5, color: textGrey }
  }));
  yAxes.push(Object.assign({}, yBase, { position: 'right', axisLabel: { show: false } }));

  series.push({
    type: 'line',
    xAxisIndex: xi,
    yAxisIndex: yi,
    step: stepped ? 'middle' : false,
    symbol: 'none',
    lineStyle: { color: color, width: stepped ? 0.7 : 1.1 },
    areaStyle: { color: color, opacity: 1, origin: 'auto' },
    data: values.map(function (v, i) { return [1961.25 + i * 0.5, v] }),
    markLine: {
      silent: true, symbol: 'none', label: { show: false },
      lineStyle: { color: color, width: 1, type: 'solid' },
      data: [{ yAxis: 0 }]
    }
  });
}

regionNames.forEach(function (region) {
  const lay = panelLayout[region];
  [0, 1].forEach(function (c) {
    regionSeries[region][c].forEach(function (values, k) {
      const ticks = (region === 'Plain' && c === 1 && k === 3) ? yTicksFine : yTicksDefault;
      addPanel(columnLeft[c], lay.tops[c][k], columnWidth[c], lay.heights[c],
        values, colors[c], scaleNames[k], k === 3, ticks, k >= 2);
    });
  });
});

const graphics = [
  { type: 'text', x: 170, y: 8, style: { text: indexNames[0], font: 'bold 12px "Liberation Serif"', fill: '#111', textAlign: 'center', textVerticalAlign: 'middle' } },
  { type: 'text', x: 532, y: 5, style: { text: indexNames[1], font: 'bold 12px "Liberation Serif"', fill: '#111', textAlign: 'center', textVerticalAlign: 'middle' } }
];
regionNames.forEach(function (region) {
  graphics.push({
    type: 'text', x: 8, y: panelLayout[region].labelY, rotation: Math.PI / 2,
    style: { text: region, font: 'bold 11px "Liberation Serif"', fill: '#111', textAlign: 'center', textVerticalAlign: 'middle' }
  });
});

const chart = echarts.init(document.getElementById('chart'));
chart.setOption({
  animation: false,
  backgroundColor: '#fff',
  grid: grids,
  xAxis: xAxes,
  yAxis: yAxes,
  series: series,
  graphic: graphics
});
</script>
</body>
</html>
